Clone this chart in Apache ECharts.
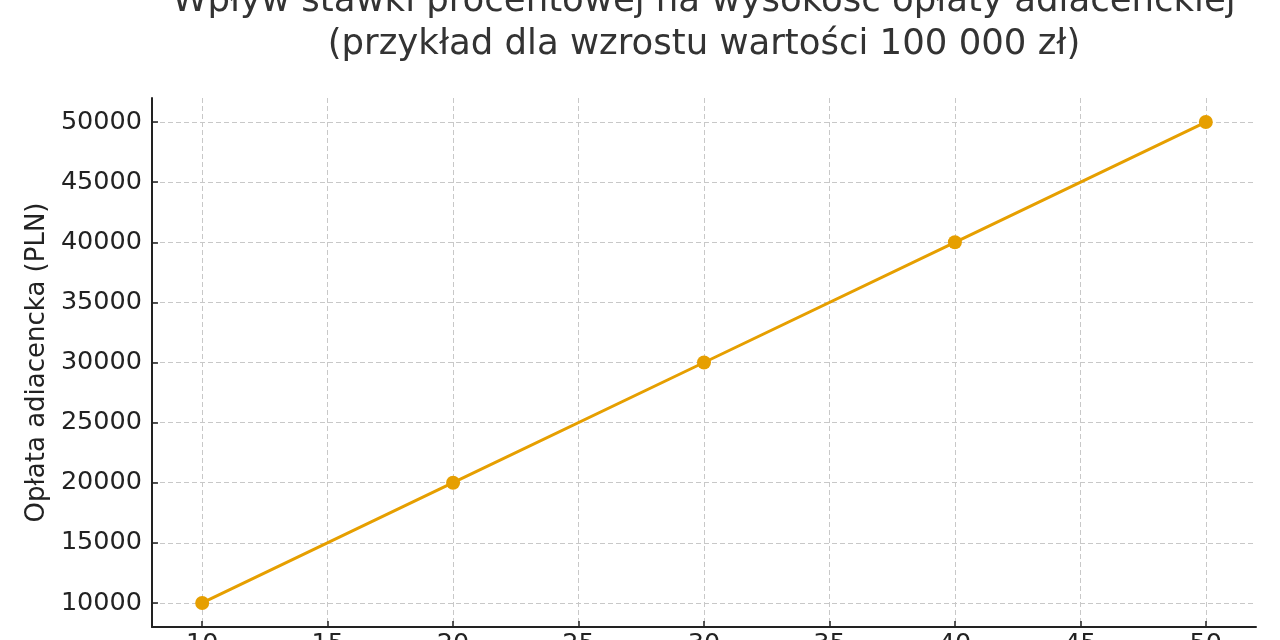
<!DOCTYPE html>
<html>
<head>
<meta charset="utf-8">
<script src="https://cdn.jsdelivr.net/npm/echarts@6/dist/echarts.min.js"></script>
<style>
  html, body { margin: 0; padding: 0; background: #fff; }
  #main { width: 1280px; height: 640px; }
</style>
</head>
<body>
<div id="main"></div>
<script>
// stawka procentowa (%) i opłata adiacencka (PLN)
var stawka = [10, 20, 30, 40, 50];
var oplata = [10000, 20000, 30000, 40000, 50000];

// podziałki osi
var xTicks = [10, 15, 20, 25, 30, 35, 40, 45, 50];
var yTicks = [10000, 15000, 20000, 25000, 30000, 35000, 40000, 45000, 50000];

var chart = echarts.init(document.getElementById('main'));

var font = 'DejaVu Sans';
var points = stawka.map(function (s, i) { return [s, oplata[i]]; });

var option = {
    backgroundColor: '#fff',
    animation: false,
    title: {
        text: 'Wpływ stawki procentowej na wysokość opłaty adiacenckiej\n(przykład dla wzrostu wartości 100 000 zł)',
        // środek nad obszarem wykresu (152..1256), nie nad całą stroną
        left: 704,
        textAlign: 'center',
        top: -20,
        padding: 0,
        textStyle: {
            fontFamily: font,
            fontSize: 35.5,
            fontWeight: 'normal',
            color: '#333',
            lineHeight: 43
        }
    },
    grid: {
        left: 152,
        right: 24,
        top: 98,
        bottom: 13,
        outerBoundsMode: 'none',
        containLabel: false
    },
    xAxis: {
        type: 'value',
        min: 8,
        max: 52,
        axisLine: { lineStyle: { color: '#222', width: 2 } },
        axisTick: {
            inside: true,
            length: 6,
            customValues: xTicks,
            lineStyle: { color: '#222', width: 1.5 }
        },
        axisLabel: {
            customValues: xTicks,
            margin: 4,
            fontFamily: font,
            fontSize: 25.5,
            color: '#222'
        },
        splitLine: {
            show: true,
            lineStyle: { color: '#c8c8c8', width: 1, type: [5, 3] }
        }
    },
    yAxis: {
        type: 'value',
        min: 8000,
        max: 52000,
        name: 'Opłata adiacencka (PLN)',
        nameLocation: 'middle',
        nameGap: 97,
        nameTextStyle: {
            fontFamily: font,
            fontSize: 26,
            color: '#222'
        },
        axisLine: { show: true, lineStyle: { color: '#222', width: 2 } },
        axisTick: {
            show: true,
            inside: true,
            length: 6,
            customValues: yTicks,
            lineStyle: { color: '#222', width: 1.5 }
        },
        axisLabel: {
            customValues: yTicks,
            margin: 10,
            fontFamily: font,
            fontSize: 25.5,
            color: '#222',
            formatter: function (v) { return String(v); }
        },
        splitLine: {
            show: true,
            lineStyle: { color: '#c8c8c8', width: 1, type: [5, 3] }
        }
    },
    series: [
        {
            type: 'line',
            data: points,
            symbol: 'circle',
            symbolSize: 14,
            color: '#E69F00',
            lineStyle: { color: '#E69F00', width: 3 },
            itemStyle: { color: '#E69F00' }
        }
    ]
};

chart.setOption(option);
window.addEventListener('resize', function () {
    chart.resize();
});
</script>
</body>
</html>
